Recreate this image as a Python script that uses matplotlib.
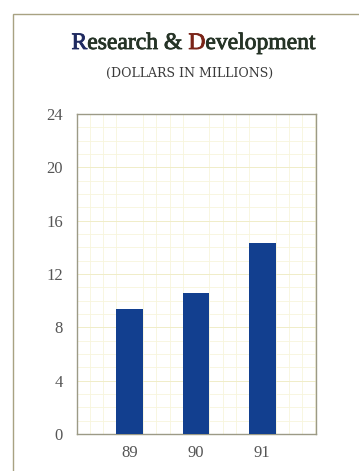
import matplotlib
matplotlib.use("Agg")
import matplotlib.pyplot as plt
import matplotlib.patheffects as pe
from matplotlib.patches import Rectangle
from matplotlib.ticker import MultipleLocator

years = ["89", "90", "91"]
values = [9.35, 10.55, 14.35]
yticks = [0, 4, 8, 12, 16, 20, 24]

W, H = 359, 471
fig = plt.figure(figsize=(W / 100, H / 100), dpi=100)
fig.patch.set_facecolor("white")
plt.rcParams["font.family"] = ["Liberation Serif", "DejaVu Serif"]

# outer frame running off right and bottom
fig.add_artist(Rectangle((13 / W, -0.05), 1.2, (H - 14) / H + 0.05, transform=fig.transFigure,
                         fill=False, edgecolor="#a8a282", linewidth=1.0))

ax_left, ax_right, ax_top, ax_bottom = 76.7, 316, 114, 434
ax = fig.add_axes([ax_left / W, 1 - ax_bottom / H, (ax_right - ax_left) / W, (ax_bottom - ax_top) / H])
x = list(range(len(years)))
ax.bar(x, values, width=0.4, color="#123f8f", zorder=3)
ax.set_xlim(-0.8, 2.81)
ax.set_ylim(0, 24)
ax.set_yticks(yticks)
ax.set_yticklabels([str(v) for v in yticks])
ax.set_xticks(x)
ax.set_xticklabels(years)
ax.yaxis.set_minor_locator(MultipleLocator(1))
ax.xaxis.set_minor_locator(MultipleLocator(0.2))
ax.grid(which="minor", color="#f7f5dc", linewidth=0.6, zorder=0)
ax.grid(which="major", axis="y", color="#f0edc8", linewidth=0.7, zorder=0)
ax.tick_params(which="both", length=0)
ax.tick_params(axis="y", pad=10, labelsize=12, labelcolor="#555555")
ax.tick_params(axis="x", pad=8, labelsize=12, labelcolor="#555555")
for s in ax.spines.values():
    s.set_color("#9c9a86")
    s.set_linewidth(1.0)

# title with coloured initials
renderer = fig.canvas.get_renderer()
pieces = [("R", "#1f2a60"), ("esearch & ", "#253326"), ("D", "#7a2418"), ("evelopment", "#253326")]
fs = 17
ty = 1 - 49 / H
texts = []
for s, c in pieces:
    t = fig.text(0, ty, s, fontsize=fs, color=c, ha="left", va="baseline",
                 path_effects=[pe.withStroke(linewidth=0.6, foreground=c)])
    texts.append(t)
fig.canvas.draw()
full = "".join(p[0] for p in pieces)
tfull = fig.text(0, ty, full, fontsize=fs, ha="left", va="baseline")
wfull = tfull.get_window_extent(renderer).width
tfull.remove()
xstart = 193.5 - wfull / 2
acc = ""
for (s, c), t in zip(pieces, texts):
    if acc:
        tmp = fig.text(0, ty, acc + "|", fontsize=fs)
        tmp2 = fig.text(0, ty, "|", fontsize=fs)
        off = tmp.get_window_extent(renderer).width - tmp2.get_window_extent(renderer).width
        tmp.remove(); tmp2.remove()
    else:
        off = 0
    t.set_x((xstart + off) / W)
    acc += s

fig.text(189.5 / W, 1 - 77 / H, "(DOLLARS IN MILLIONS)", fontsize=9, color="#3a3a3a",
         family=["DejaVu Serif"], ha="center", va="baseline")

fig.savefig("out.png", dpi=100)
